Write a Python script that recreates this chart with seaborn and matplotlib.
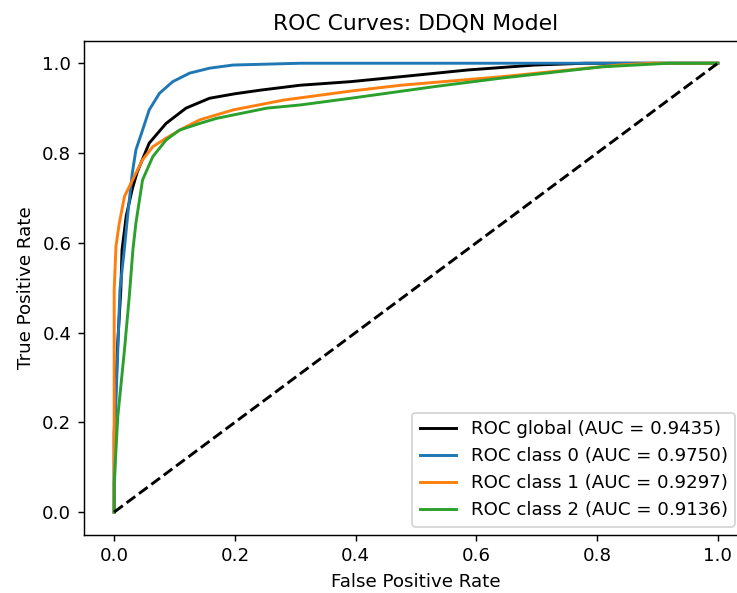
import matplotlib
matplotlib.use("Agg")
import matplotlib.pyplot as plt
import seaborn as sns
import pandas as pd

# --- DATA ---
FPR_GLOBAL = [0.0, 0.0, 0.002, 0.006, 0.011, 0.013, 0.020, 0.030, 0.038, 0.058, 0.086,
              0.119, 0.158, 0.200, 0.242, 0.308, 0.392, 0.475, 0.586, 0.697, 0.780, 0.900, 1.0]
TPR_GLOBAL = [0.0, 0.176, 0.250, 0.380, 0.495, 0.584, 0.660, 0.720, 0.757, 0.822, 0.866,
              0.900, 0.922, 0.932, 0.940, 0.951, 0.959, 0.970, 0.985, 0.996, 1.0, 1.0, 1.0]

FPR_C0 = [0.0, 0.001, 0.002, 0.006, 0.0095, 0.0167, 0.023, 0.030, 0.036, 0.047, 0.058,
          0.075, 0.097, 0.125, 0.158, 0.197, 0.308, 0.500, 1.0]
TPR_C0 = [0.0, 0.100, 0.213, 0.361, 0.495, 0.584, 0.670, 0.755, 0.807, 0.851, 0.896,
          0.933, 0.959, 0.978, 0.989, 0.996, 1.0, 1.0, 1.0]

FPR_C1 = [0.0, 0.0, 0.0, 0.0, 0.003, 0.008, 0.017, 0.025, 0.036, 0.047, 0.064, 0.086,
          0.114, 0.142, 0.197, 0.281, 0.392, 0.475, 0.642, 0.753, 0.836, 0.892, 1.0]
TPR_C1 = [0.0, 0.139, 0.361, 0.495, 0.592, 0.640, 0.703, 0.725, 0.755, 0.785, 0.814, 0.833,
          0.855, 0.874, 0.896, 0.918, 0.938, 0.951, 0.970, 0.985, 0.996, 1.0, 1.0]

FPR_C2 = [0.0, 0.0, 0.006, 0.017, 0.025, 0.031, 0.036, 0.047, 0.064, 0.086, 0.108, 0.142,
          0.169, 0.253, 0.308, 0.392, 0.531, 0.642, 0.808, 0.919, 1.0]
TPR_C2 = [0.0, 0.065, 0.213, 0.361, 0.480, 0.584, 0.644, 0.740, 0.792, 0.829, 0.851, 0.866,
          0.877, 0.900, 0.907, 0.922, 0.948, 0.967, 0.992, 1.0, 1.0]

LABELS = ["ROC global (AUC = 0.9435)", "ROC class 0 (AUC = 0.9750)",
          "ROC class 1 (AUC = 0.9297)", "ROC class 2 (AUC = 0.9136)"]
COLORS = ["black", "#1f77b4", "#ff7f0e", "#2ca02c"]

curves = [(FPR_GLOBAL, TPR_GLOBAL), (FPR_C0, TPR_C0), (FPR_C1, TPR_C1), (FPR_C2, TPR_C2)]

DPI = 131
fig = plt.figure(figsize=(737 / DPI, 593 / DPI), dpi=DPI)
ax = fig.add_axes([84 / 737, 1 - 534.5 / 593, 664 / 737, 493.7 / 593])

for (fpr, tpr), label, color in zip(curves, LABELS, COLORS):
    df = pd.DataFrame({"fpr": fpr, "tpr": tpr})
    sns.lineplot(data=df, x="fpr", y="tpr", estimator=None, sort=False,
                 color=color, linewidth=1.6, label=label, ax=ax)

diag = pd.DataFrame({"fpr": [0, 1], "tpr": [0, 1]})
sns.lineplot(data=diag, x="fpr", y="tpr", estimator=None, sort=False,
             color="black", linestyle="--", linewidth=1.6, ax=ax)

ax.set_xlim(-0.05, 1.05)
ax.set_ylim(-0.05, 1.05)
ax.set_xticks([0.0, 0.2, 0.4, 0.6, 0.8, 1.0])
ax.set_yticks([0.0, 0.2, 0.4, 0.6, 0.8, 1.0])
ax.set_title("ROC Curves: DDQN Model", fontsize=12)
ax.set_xlabel("False Positive Rate")
ax.set_ylabel("True Positive Rate")
ax.legend(loc="lower right", bbox_to_anchor=(0.9804, 0.0158), borderaxespad=0)

fig.savefig("out.png", dpi=DPI)
